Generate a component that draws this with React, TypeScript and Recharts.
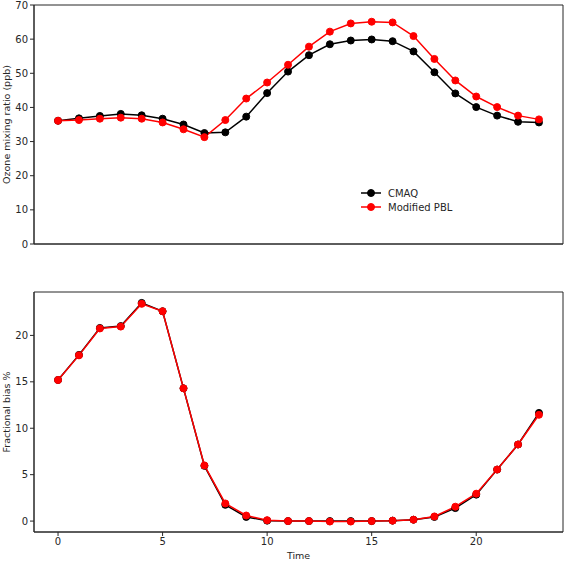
import React from 'react';
import { LineChart, Line, XAxis, YAxis, Legend, ReferenceArea } from 'recharts';

const hours = [0, 1, 2, 3, 4, 5, 6, 7, 8, 9, 10, 11, 12, 13, 14, 15, 16, 17, 18, 19, 20, 21, 22, 23];
const cmaqOzone = [36.1, 36.8, 37.5, 38.1, 37.7, 36.7, 35.0, 32.5, 32.7, 37.3, 44.2, 50.5, 55.3, 58.5, 59.6, 59.9, 59.4, 56.4, 50.3, 44.1, 40.1, 37.6, 35.8, 35.6];
const pblOzone = [36.1, 36.3, 36.7, 37.0, 36.7, 35.6, 33.6, 31.3, 36.3, 42.6, 47.3, 52.5, 57.8, 62.2, 64.6, 65.1, 64.9, 60.9, 54.2, 47.9, 43.2, 40.1, 37.6, 36.5];
const cmaqBias = [15.2, 17.9, 20.8, 21.0, 23.5, 22.6, 14.3, 5.95, 1.75, 0.45, 0.05, 0.0, 0.0, 0.0, 0.0, 0.0, 0.05, 0.15, 0.45, 1.4, 2.85, 5.55, 8.25, 11.65];
const pblBias = [15.2, 17.85, 20.75, 20.95, 23.4, 22.6, 14.3, 6.0, 1.9, 0.6, 0.1, 0.0, 0.0, -0.05, -0.05, 0.0, 0.05, 0.15, 0.5, 1.55, 2.95, 5.55, 8.25, 11.45];
const xTicks = [0, 5, 10, 15, 20];
const ozoneTicks = [0, 10, 20, 30, 40, 50, 60, 70];
const biasTicks = [0, 5, 10, 15, 20];
const seriesNames = ['CMAQ', 'Modified PBL'];

const ozoneData = hours.map((t, i) => ({ t, cmaq: cmaqOzone[i], pbl: pblOzone[i] }));
const biasData = hours.map((t, i) => ({ t, cmaq: cmaqBias[i], pbl: pblBias[i] }));

const FONT = 'DejaVu Sans, sans-serif';
const AX = '#262626';
const BLACK = '#000000';
const RED = '#ff0000';
const xDomain: [number, number] = [-1.15, 24.15];
const ozoneDomain: [number, number] = [0, 70];
const biasDomain: [number, number] = [-1.175, 24.675];

const tickStyle = { fontSize: 10, fill: AX, fontFamily: FONT };

const yLabel = (text: string) => (props: any) => {
  const vb = props.viewBox || {};
  const cx = 10;
  const cy = (vb.y || 0) + (vb.height || 0) / 2;
  return (
    <text x={cx} y={cy} transform={`rotate(-90 ${cx} ${cy})`} textAnchor="middle" fontSize={9.5} fill={AX} fontFamily={FONT}>
      {text}
    </text>
  );
};

const xLabel = (text: string) => (props: any) => {
  const vb = props.viewBox || {};
  const cx = (vb.x || 0) + (vb.width || 0) / 2;
  const cy = (vb.y || 0) + 27;
  return (
    <text x={cx} y={cy} textAnchor="middle" fontSize={9.5} fill={AX} fontFamily={FONT}>
      {text}
    </text>
  );
};

const LegendContent = (props: any) => {
  const payload = props.payload || [];
  return (
    <div style={{ fontFamily: FONT, fontSize: 10, color: AX }}>
      {payload.map((p: any) => (
        <div key={p.value} style={{ display: 'flex', alignItems: 'center', height: 14 }}>
          <svg width={20} height={14} style={{ marginRight: 7 }}>
            <line x1={0} y1={7} x2={20} y2={7} stroke={p.color} strokeWidth={1.5} />
            <circle cx={10} cy={7} r={3.5} fill={p.color} stroke={p.color} strokeWidth={1} />
          </svg>
          <span>{p.value}</span>
        </div>
      ))}
    </div>
  );
};

export default function App() {
  return (
    <div style={{ position: 'absolute', left: 0, top: 0, width: 567, height: 561, background: '#fff' }}>
      <LineChart width={567} height={250} data={ozoneData} margin={{ top: 5, right: 4, bottom: 0, left: 0 }}>
        <XAxis dataKey="t" type="number" domain={xDomain} ticks={xTicks} allowDataOverflow height={6} tick={false} tickSize={4} tickLine={{ stroke: AX }} axisLine={{ stroke: AX }} />
        <YAxis type="number" domain={ozoneDomain} ticks={ozoneTicks} allowDataOverflow width={34} tick={tickStyle} tickSize={4} tickMargin={2} tickLine={{ stroke: AX }} axisLine={{ stroke: AX }} label={{ content: yLabel('Ozone mixing ratio (ppb)') } as any} />
        <ReferenceArea x1={xDomain[0]} x2={xDomain[1]} y1={ozoneDomain[0]} y2={ozoneDomain[1]} fill="none" fillOpacity={0} stroke={AX} strokeWidth={1} ifOverflow="visible" />
        <Line dataKey="cmaq" name={seriesNames[0]} stroke={BLACK} strokeWidth={1.5} dot={{ r: 3.5, fill: BLACK, stroke: BLACK, strokeWidth: 1 }} isAnimationActive={false} />
        <Line dataKey="pbl" name={seriesNames[1]} stroke={RED} strokeWidth={1.5} dot={{ r: 3.5, fill: RED, stroke: RED, strokeWidth: 1 }} isAnimationActive={false} />
        <Legend layout="horizontal" align="center" verticalAlign="middle" content={<LegendContent />} wrapperStyle={{ position: 'absolute', left: 361, top: 186, width: 'auto', height: 'auto' }} />
      </LineChart>
      <LineChart width={567} height={311} data={biasData} margin={{ top: 42, right: 4, bottom: 0, left: 0 }}>
        <XAxis dataKey="t" type="number" domain={xDomain} ticks={xTicks} allowDataOverflow height={29} tick={tickStyle} tickSize={4} tickMargin={2} tickLine={{ stroke: AX }} axisLine={{ stroke: AX }} label={{ content: xLabel('Time') } as any} />
        <YAxis type="number" domain={biasDomain} ticks={biasTicks} allowDataOverflow width={34} tick={tickStyle} tickSize={4} tickMargin={2} tickLine={{ stroke: AX }} axisLine={{ stroke: AX }} label={{ content: yLabel('Fractional bias %') } as any} />
        <ReferenceArea x1={xDomain[0]} x2={xDomain[1]} y1={biasDomain[0]} y2={biasDomain[1]} fill="none" fillOpacity={0} stroke={AX} strokeWidth={1} ifOverflow="visible" />
        <Line dataKey="cmaq" name={seriesNames[0]} stroke={BLACK} strokeWidth={1.5} dot={{ r: 3.5, fill: BLACK, stroke: BLACK, strokeWidth: 1 }} isAnimationActive={false} />
        <Line dataKey="pbl" name={seriesNames[1]} stroke={RED} strokeWidth={1.5} dot={{ r: 3.5, fill: RED, stroke: RED, strokeWidth: 1 }} isAnimationActive={false} />
      </LineChart>
    </div>
  );
}
